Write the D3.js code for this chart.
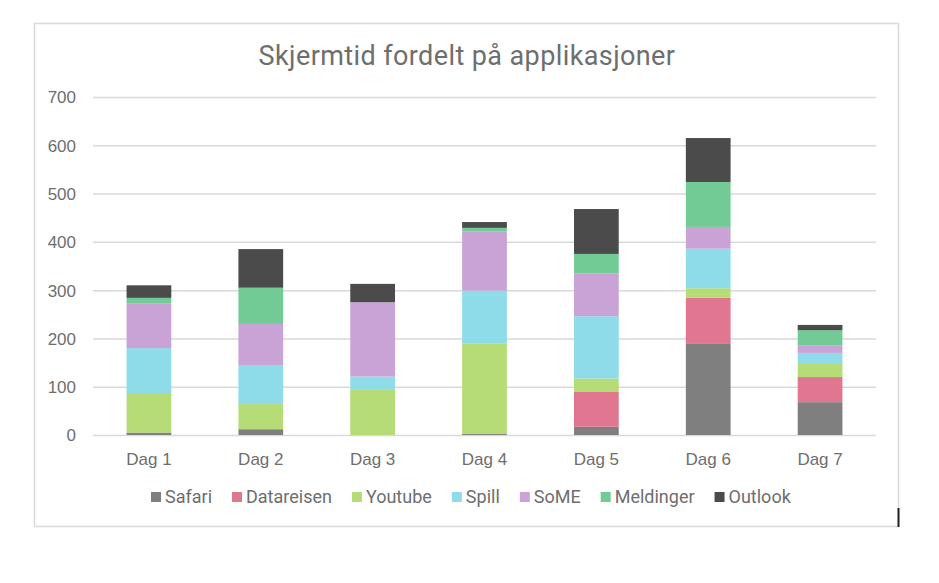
<!DOCTYPE html>
<html>
<head>
<meta charset="utf-8">
<script src="https://cdn.jsdelivr.net/npm/d3@7"></script>
<style>
  body { margin: 0; background: #fff; }
  svg { font-family: Roboto, 'Open Sans', sans-serif; }
  .tick line { stroke: #d9d9d9; stroke-width: 1.5; }
  .domain { display: none; }
  .tick text { fill: #6e6e6e; font-size: 17px; }
</style>
</head>
<body>
<svg id="chart"></svg>
<script>
const days = ['Dag 1', 'Dag 2', 'Dag 3', 'Dag 4', 'Dag 5', 'Dag 6', 'Dag 7'];
const apps = ['Safari', 'Datareisen', 'Youtube', 'Spill', 'SoME', 'Meldinger', 'Outlook'];
const safari = [5, 12, 0, 2, 17, 190, 68];
const datareisen = [0, 0, 0, 0, 72, 94, 52];
const youtube = [82, 52, 95, 188, 28, 20, 27];
const spill = [93, 81, 26, 109, 129, 82, 23];
const some = [92, 85, 154, 123, 89, 45, 16];
const meldinger = [12, 75, 0, 7, 40, 93, 31];
const outlook = [26, 80, 38, 12, 93, 91, 11];
const yTicks = [0, 100, 200, 300, 400, 500, 600, 700];
const colors = ['#7f7f7f', '#e0768f', '#b6dc78', '#8edbe9', '#c9a3d6', '#72cb95', '#4b4b4b'];

const W = 939, H = 583;
const plotLeft = 93, plotRight = 876, plotTop = 97, plotBottom = 435;

const seriesArrays = [safari, datareisen, youtube, spill, some, meldinger, outlook];
const table = days.map((d, i) => {
  const row = { day: d };
  apps.forEach((a, j) => { row[a] = seriesArrays[j][i]; });
  return row;
});

const svg = d3.select('#chart').attr('width', W).attr('height', H);

svg.append('rect')
  .attr('x', 34.5).attr('y', 23.5)
  .attr('width', 864).attr('height', 503)
  .attr('fill', '#fff').attr('stroke', '#d9d9d9').attr('stroke-width', 1.5);

svg.append('line')
  .attr('x1', 898.5).attr('x2', 898.5).attr('y1', 508).attr('y2', 527)
  .attr('stroke', '#222').attr('stroke-width', 2);

svg.append('text')
  .attr('x', 467).attr('y', 65)
  .attr('text-anchor', 'middle')
  .attr('fill', '#6e6e6e')
  .attr('font-size', '27px')
  .attr('letter-spacing', '0.4px')
  .text('Skjermtid fordelt på applikasjoner');

const x = d3.scaleBand().domain(days).range([plotLeft, plotRight]).paddingInner(0.6).paddingOuter(0.3);
const y = d3.scaleLinear().domain([0, 700]).range([plotBottom, plotTop]);

svg.append('g')
  .attr('transform', `translate(${plotLeft}, 0)`)
  .call(d3.axisLeft(y).tickValues(yTicks).tickSize(-(plotRight - plotLeft)).tickPadding(17))
  .selectAll('.tick text').attr('dy', '0.35em');

const stack = d3.stack().keys(apps)(table);

svg.append('g')
  .selectAll('g')
  .data(stack)
  .enter()
  .append('g')
  .attr('fill', (d, i) => colors[i])
  .selectAll('rect')
  .data((d) => d)
  .enter()
  .append('rect')
  .attr('x', (d) => x(d.data.day))
  .attr('width', x.bandwidth())
  .attr('y', (d) => y(d[1]))
  .attr('height', (d) => y(d[0]) - y(d[1]));

svg.append('g')
  .attr('transform', `translate(0, ${plotBottom})`)
  .call(d3.axisBottom(x).tickSize(0).tickPadding(18));

// legend
const legend = svg.append('g').attr('transform', 'translate(0, 497)');
let lx = 151;
apps.forEach((a, i) => {
  const g = legend.append('g').attr('transform', `translate(${lx}, 0)`);
  g.append('rect').attr('x', 0).attr('y', -5).attr('width', 10).attr('height', 10).attr('fill', colors[i]);
  const t = g.append('text').attr('x', 14).attr('y', 0).attr('dy', '0.35em')
    .attr('fill', '#6e6e6e').attr('font-size', '18px').text(a);
  lx += 14 + t.node().getComputedTextLength() + 20;
});
</script>
</body>
</html>
